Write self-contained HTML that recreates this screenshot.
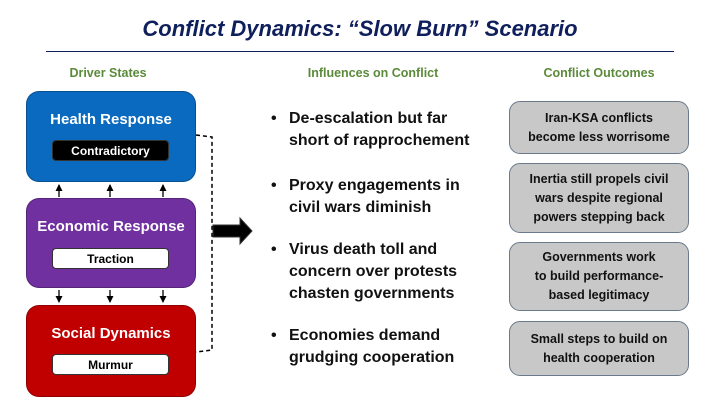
<!DOCTYPE html>
<html><head><style>
body{margin:0;width:720px;height:405px;background:#fff;position:relative;font-family:"Liberation Sans",sans-serif;overflow:hidden}
.a{position:absolute}
.t{left:0;width:720px;top:16px;text-align:center;font-size:22px;font-weight:bold;font-style:italic;color:#0e1f5b}
.h{font-size:12.5px;font-weight:bold;color:#5b8a3a;text-align:center;top:66px}
.box{border-radius:13px;left:26px;width:170px;color:#fff;font-weight:bold;font-size:15px;text-align:center;box-sizing:border-box;border:1px solid rgba(0,0,0,.25)}
.box .l{position:absolute;top:19px;left:0;width:100%}
.in{position:absolute;left:25px;width:117px;height:21px;border-radius:4px;font-size:12px;line-height:21px;color:#000;background:#fff;border:1px solid #333;box-sizing:border-box}
.o{left:509px;width:180px;background:#c8c8c8;border:1px solid #6a7a8a;border-radius:11px;box-sizing:border-box;font-weight:bold;font-size:12.5px;line-height:19px;text-align:center;color:#111;display:flex;align-items:center;justify-content:center}
.b{left:271px;font-size:16px;font-weight:bold;line-height:22px;color:#111}
.b span{position:absolute;left:0}
.b div{margin-left:18px}
</style></head><body>
<div class="a t">Conflict Dynamics: “Slow Burn” Scenario</div>
<div class="a" style="left:46px;top:51px;width:628px;height:1px;background:#0e1f5b"></div>
<div class="a h" style="left:38px;width:140px">Driver States</div>
<div class="a h" style="left:283px;width:180px">Influences on Conflict</div>
<div class="a h" style="left:509px;width:180px">Conflict Outcomes</div>

<div class="a box" style="top:91px;height:91px;background:#0a6abf"><div class="l">Health Response</div><div class="in" style="top:48px;background:#000;color:#fff">Contradictory</div></div>
<div class="a box" style="top:198px;height:90px;background:#7030a0"><div class="l">Economic Response</div><div class="in" style="top:49px">Traction</div></div>
<div class="a box" style="top:305px;height:92px;background:#c00000"><div class="l">Social Dynamics</div><div class="in" style="top:48px">Murmur</div></div>

<svg class="a" style="left:0;top:0" width="720" height="405">
<defs><marker id="m" markerUnits="userSpaceOnUse" markerWidth="7" markerHeight="7" refX="6" refY="3.5" orient="auto"><path d="M0,0L7,3.5L0,7z" fill="#000"/></marker></defs>
<g stroke="#000" stroke-width="1.3">
<line x1="59" y1="197" x2="59" y2="185" marker-end="url(#m)"/>
<line x1="110" y1="197" x2="110" y2="185" marker-end="url(#m)"/>
<line x1="163" y1="197" x2="163" y2="185" marker-end="url(#m)"/>
<line x1="59" y1="290" x2="59" y2="302" marker-end="url(#m)"/>
<line x1="110" y1="290" x2="110" y2="302" marker-end="url(#m)"/>
<line x1="163" y1="290" x2="163" y2="302" marker-end="url(#m)"/>
</g>
<path d="M196,135 L212,137 L212,350 L196,352" fill="none" stroke="#000" stroke-width="1.5" stroke-dasharray="4,3"/>
<path d="M213,225 L240,225 L240,218 L252,231 L240,244 L240,237 L213,237z" fill="#000" stroke="#333"/>
</svg>

<div class="a b" style="top:108px"><span>•</span><div>De-escalation but far<br>short of rapprochement</div></div>
<div class="a b" style="top:175px"><span>•</span><div>Proxy engagements in<br>civil wars diminish</div></div>
<div class="a b" style="top:239px"><span>•</span><div>Virus death toll and<br>concern over protests<br>chasten governments</div></div>
<div class="a b" style="top:325px"><span>•</span><div>Economies demand<br>grudging cooperation</div></div>

<div class="a o" style="top:101px;height:53px">Iran-KSA conflicts<br>become less worrisome</div>
<div class="a o" style="top:163px;height:70px">Inertia still propels civil<br>wars despite regional<br>powers stepping back</div>
<div class="a o" style="top:242px;height:69px">Governments work<br>to build performance-<br>based legitimacy</div>
<div class="a o" style="top:321px;height:55px">Small steps to build on<br>health cooperation</div>
</body></html>
